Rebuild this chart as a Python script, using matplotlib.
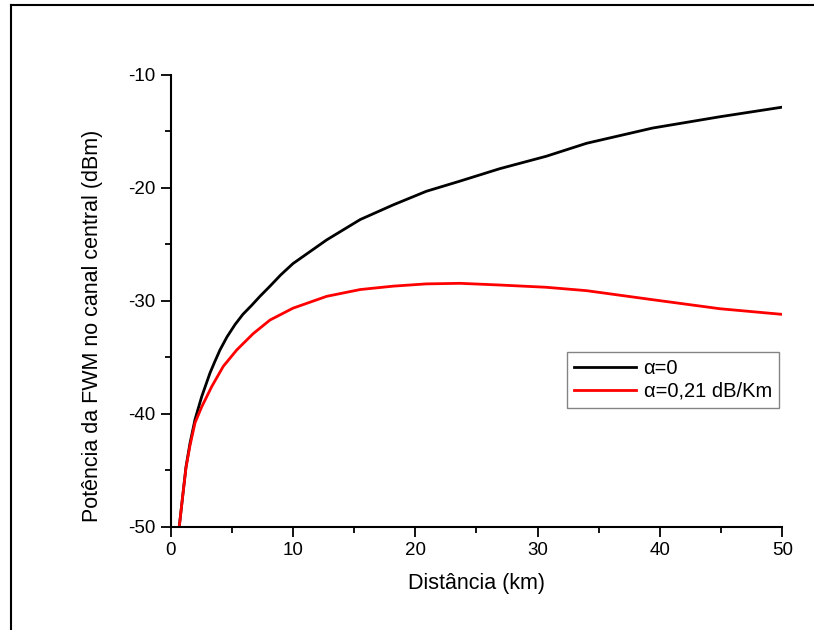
import matplotlib
matplotlib.use('Agg')
import matplotlib.pyplot as plt
from matplotlib.lines import Line2D
from matplotlib.ticker import MultipleLocator

plt.rcParams['font.family'] = ['Liberation Sans', 'DejaVu Sans']
plt.rcParams['axes.unicode_minus'] = False

# curva sem atenuacao (alpha=0)
dist_a0 = [0.70, 0.98, 1.25, 1.58, 1.99, 2.53, 3.21, 3.6, 4.03, 4.6, 5.26, 5.9, 6.62, 7.3, 8.12,
           9.0, 10.0, 12.76, 15.5, 18.2, 20.9, 23.65, 26.9, 30.7, 34.0, 39.4, 44.9, 50.0]
pot_a0 = [-50.0, -47.3, -44.7, -42.6, -40.5, -38.5, -36.4, -35.4, -34.35, -33.2, -32.1, -31.2, -30.4, -29.6, -28.7,
          -27.7, -26.7, -24.6, -22.8, -21.5, -20.3, -19.4, -18.3, -17.2, -16.05, -14.7, -13.7, -12.85]

# curva com alpha=0,21 dB/Km
dist_a21 = [0.70, 0.98, 1.25, 1.58, 1.99, 2.53, 3.35, 4.30, 5.40, 6.75, 8.12,
            10.0, 12.76, 15.5, 18.2, 20.9, 23.65, 26.9, 30.7, 34.0, 39.4, 44.9, 50.0]
pot_a21 = [-50.0, -47.3, -44.8, -42.8, -40.8, -39.4, -37.6, -35.8, -34.35, -32.9, -31.7,
           -30.65, -29.6, -29.0, -28.7, -28.5, -28.45, -28.6, -28.8, -29.1, -29.9, -30.7, -31.2]

fig = plt.figure(figsize=(8.14, 6.3), dpi=100)
ax = fig.add_axes([0.2097, 0.164, 0.7513, 0.717])

ax.plot(dist_a0, pot_a0, color='black', lw=2, label='\u03b1=0')
ax.plot(dist_a21, pot_a21, color='red', lw=2, label='\u03b1=0,21 dB/Km')

ax.set_xlim(0, 50)
ax.set_ylim(-50, -10)
ax.xaxis.set_major_locator(MultipleLocator(10))
ax.xaxis.set_minor_locator(MultipleLocator(5))
ax.yaxis.set_major_locator(MultipleLocator(10))
ax.yaxis.set_minor_locator(MultipleLocator(5))

for s in ['top', 'right']:
    ax.spines[s].set_visible(False)
for s in ['left', 'bottom']:
    ax.spines[s].set_linewidth(1.5)

ax.tick_params(which='major', direction='out', length=7, width=1.3,
               labelsize=13.5, pad=4)
ax.tick_params(which='minor', direction='out', length=4, width=1.3)

ax.set_xlabel('Dist\u00e2ncia (km)', fontsize=15.5, labelpad=10)
ax.set_ylabel('Pot\u00eancia da FWM no canal central (dBm)', fontsize=15.5)
ax.yaxis.set_label_coords(-0.111, 0.445)

leg = ax.legend(loc='upper left', bbox_to_anchor=(0.648, 0.387), fontsize=14.5,
                frameon=True, fancybox=False, handlelength=3.1,
                borderpad=0.35, labelspacing=0.2, handletextpad=0.35,
                borderaxespad=0)
leg.get_frame().set_edgecolor('#666666')
leg.get_frame().set_linewidth(1.0)

# moldura externa (so esquerda e topo visiveis)
fig.add_artist(Line2D([0.0135, 0.0135], [0.0, 0.9915], transform=fig.transFigure,
                      color='black', lw=1.5))
fig.add_artist(Line2D([0.0135, 1.0], [0.9915, 0.9915], transform=fig.transFigure,
                      color='black', lw=1.5))

fig.savefig('out.png', dpi=100)
